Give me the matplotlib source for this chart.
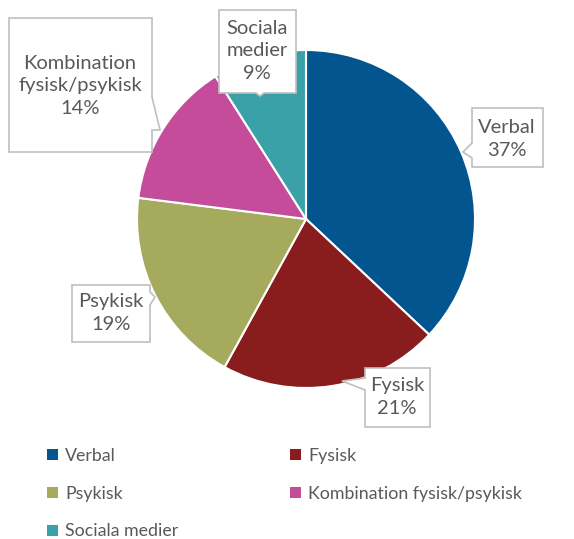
import matplotlib.pyplot as plt
from matplotlib.patches import Polygon

# Datos
categories = ['Verbal', 'Fysisk', 'Psykisk', 'Kombination fysisk/psykisk', 'Sociala medier']
label_texts = ['Verbal', 'Fysisk', 'Psykisk', 'Kombination\nfysisk/psykisk', 'Sociala\nmedier']
values = [37, 21, 19, 14, 9]
colors = ['#02558F', '#891D1E', '#A6AA5C', '#C44C9B', '#3BA1A8']

W, H = 574, 539
TXT = '#595959'
EDGE = '#BFBFBF'

# posiciones de las etiquetas (coordenadas de imagen: x, y hacia abajo)
label_pos = [(507, 139), (397, 397), (111, 313), (80, 86), (257, 51)]
# cajas (x0, y0, x1, y1) y puntero (lado, base1, base2, punta)
boxes = [
    ((472, 108, 543, 167), ('left', 143, 158, (463, 152))),
    ((365, 368, 430, 427), ('left', 378, 390, (342, 381))),
    ((72, 285, 150, 342), ('right', 292, 305, (155, 297))),
    ((9, 18, 152, 152), ('right', 97, 130, (160, 130))),
    ((219, 10, 296, 93), ('bottom', 256, 264, (260, 96))),
]

plt.rcParams['font.family'] = ['Lato', 'DejaVu Sans']

fig = plt.figure(figsize=(W / 100, H / 100), dpi=100)
ax = fig.add_axes([0, 0, 1, 1])

wedges, _ = ax.pie(values, colors=colors, startangle=90, counterclock=False,
                   center=(306, H - 219), radius=169,
                   wedgeprops=dict(edgecolor='white', linewidth=1.5))
ax.set_xlim(0, W)
ax.set_ylim(0, H)
ax.set_aspect('auto')
ax.axis('off')


def callout(box, ptr):
    x0, y0, x1, y1 = box
    side, b1, b2, tip = ptr
    Y = lambda y: H - y
    if side == 'left':
        pts = [(x0, y0), (x1, y0), (x1, y1), (x0, y1), (x0, b2), tip, (x0, b1)]
    elif side == 'right':
        pts = [(x0, y0), (x1, y0), (x1, b1), tip, (x1, b2), (x1, y1), (x0, y1)]
    else:
        pts = [(x0, y0), (x1, y0), (x1, y1), (b2, y1), tip, (b1, y1), (x0, y1)]
    pts = [(px, Y(py)) for px, py in pts]
    ax.add_patch(Polygon(pts, closed=True, facecolor='white', edgecolor=EDGE,
                         linewidth=1.2, zorder=5))


for (box, ptr), txt, v, (lx, ly) in zip(boxes, label_texts, values, label_pos):
    callout(box, ptr)
    ax.text(lx, H - ly, f'{txt}\n{v}%', ha='center', va='center',
            fontsize=14.5, color=TXT, linespacing=1.42, zorder=6)

# leyenda (orden por filas)
order = [0, 2, 4, 1, 3]
leg = ax.legend([wedges[i] for i in order], [categories[i] for i in order],
                loc='upper left', bbox_to_anchor=(40 / W, 1 - 441 / H),
                ncol=2, frameon=False, fontsize=12.8, handlelength=0.6,
                handleheight=0.6, handletextpad=0.4, labelspacing=1.22,
                columnspacing=6.3, borderaxespad=0)
for t in leg.get_texts():
    t.set_color(TXT)
for h in leg.legend_handles:
    h.set_edgecolor('none')

fig.savefig('out.png', dpi=100)
